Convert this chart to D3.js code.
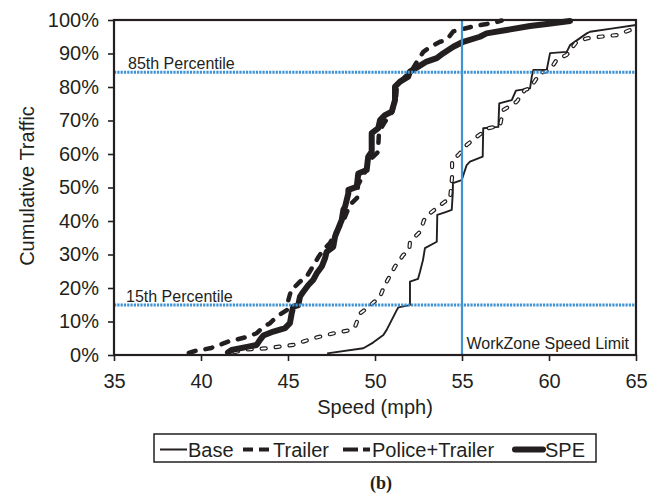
<!DOCTYPE html>
<html><head><meta charset="utf-8">
<script src="https://cdn.jsdelivr.net/npm/d3@7"></script>
<style>
body{margin:0;background:#fff;}
svg{display:block;font-family:"Liberation Sans",Arial,Helvetica,sans-serif;}
</style>
</head><body>
<svg id="chart" width="660" height="498"></svg>
<script>
// ---- data ----
const xTicks = [35, 40, 45, 50, 55, 60, 65];
const yTicks = [0, 10, 20, 30, 40, 50, 60, 70, 80, 90, 100];
const speedLimit = 55;
const pct15 = 14.9;
const pct85 = 84.4;
const seriesNames = ["Base", "Trailer", "Police+Trailer", "SPE"];

const baseSeries = [[47.25,0.5],[49.33,2.0],[49.89,3.7],[50.48,6.0],[50.67,7.5],[51.25,13.4],[51.34,14.2],[52.01,14.9],[52.01,21.9],[52.47,22.7],[52.59,24.9],[52.76,28.4],[52.87,31.9],[53.55,33.8],[53.58,41.8],[54.02,42.6],[54.41,43.3],[54.47,48.3],[54.48,51.3],[54.98,52.2],[55.27,56.7],[55.46,57.7],[56.19,59.2],[56.22,67.7],[57.09,68.1],[57.14,75.1],[57.86,76.1],[58.10,78.9],[58.91,79.6],[59.01,83.1],[59.10,85.1],[59.87,85.1],[60.06,90.1],[61.02,90.5],[61.21,92.5],[62.17,96.0],[62.36,96.5],[63.68,97.5],[65.0,98.5]];

const trailerSeries = [[39.3,0.65],[39.66,1.2],[40.52,2.0],[40.80,2.5],[41.57,4.0],[41.95,4.5],[42.72,5.5],[43.20,6.5],[43.58,8.4],[43.97,9.5],[44.35,11.4],[44.93,13.4],[45.02,16.4],[45.21,19.9],[45.40,20.4],[45.69,21.9],[46.07,23.4],[46.38,26.0],[46.72,29.0],[47.01,31.3],[47.41,33.4],[47.76,36.7],[48.16,39.7],[48.39,42.7],[48.56,44.8],[48.97,46.9],[49.02,50.7],[49.43,54.6],[49.71,58.2],[50.17,60.6],[50.23,66.6],[50.57,69.6],[50.98,72.5],[51.21,76.7],[51.26,80.3],[51.67,82.7],[52.13,85.1],[52.47,88.1],[52.78,90.5],[53.16,91.9],[53.74,93.5],[54.12,94.1],[54.50,96.6],[54.89,97.1],[55.65,98.1],[56.42,98.8],[57.0,99.4],[57.28,99.85]];

const policeTrailerSeries = [[41.9,0.8],[42.5,1.6],[43.78,2.0],[45.30,3.0],[46.45,5.0],[47.80,6.7],[48.66,7.5],[48.85,8.4],[49.14,12.4],[49.52,13.9],[50.29,17.4],[50.52,20.4],[51.15,26.4],[51.63,29.9],[51.97,31.3],[52.01,33.8],[52.59,36.8],[52.82,40.3],[53.16,42.3],[54.02,45.8],[54.31,46.3],[54.43,53.2],[54.43,58.2],[54.79,59.7],[55.27,62.7],[55.84,65.1],[56.51,67.7],[57.18,68.4],[57.37,73.1],[58.14,75.6],[58.62,79.1],[58.91,79.6],[59.48,84.1],[60.06,85.1],[60.44,88.1],[61.02,89.6],[61.59,93.5],[62.17,94.5],[62.93,95.0],[63.89,95.5],[64.66,97.0],[65.0,98.5]];

const speSeries = [[41.55,0.75],[41.76,1.5],[42.72,2.5],[43.20,3.0],[43.39,4.5],[43.58,5.8],[44.16,7.0],[44.83,8.0],[45.11,9.5],[45.21,12.4],[45.30,14.4],[45.59,14.9],[45.69,17.4],[45.88,18.9],[46.17,20.9],[46.45,22.4],[46.65,24.4],[46.94,26.4],[47.13,28.9],[47.22,30.8],[47.60,32.3],[47.70,35.3],[48.09,40.3],[48.18,43.3],[48.28,44.3],[48.47,48.3],[48.47,49.3],[48.95,50.2],[49.04,54.2],[49.52,55.2],[49.61,59.2],[49.81,60.7],[49.81,66.2],[50.19,67.7],[50.29,70.1],[50.57,71.6],[50.96,72.6],[51.15,76.1],[51.15,80.1],[51.44,81.6],[51.91,83.1],[52.01,84.6],[52.49,86.1],[52.97,87.6],[53.55,88.6],[53.93,90.1],[54.50,92.0],[55.07,93.5],[56.03,95.0],[56.41,96.0],[57.56,97.0],[58.91,98.2],[59.87,98.8],[61.21,99.7]];

// ---- layout ----
const ink = "#231f20", blue = "#3f92d4";
const svg = d3.select("#chart");
const x = d3.scaleLinear().domain([35, 65]).range([114, 636]);
const y = d3.scaleLinear().domain([0, 100]).range([355, 20]);
const line = d3.line().x(d => x(d[0])).y(d => y(d[1]));

// axes
const gx = svg.append("g").attr("transform", `translate(0,${y(0)})`)
  .call(d3.axisBottom(x).tickValues(xTicks).tickSize(6).tickPadding(13).tickFormat(d3.format("d")));
const gy = svg.append("g").attr("transform", `translate(${x(35)},0)`)
  .call(d3.axisLeft(y).tickValues(yTicks).tickSize(6).tickPadding(9).tickFormat(d => d + "%"));
[gx, gy].forEach(g => {
  g.select(".domain").remove();
  g.selectAll("line").attr("stroke", ink).attr("stroke-width", 1.6);
  g.selectAll("text").attr("fill", ink).style("font-size", "20px").style("font-family", '"Liberation Sans",Arial,sans-serif');
});

// curves
const gc = svg.append("g").attr("fill", "none").attr("stroke-linejoin", "round");
gc.append("path").datum(baseSeries).attr("d", line).attr("stroke", ink).attr("stroke-width", 1.9);
gc.append("path").datum(policeTrailerSeries).attr("d", line).attr("stroke", ink).attr("stroke-width", 4.2)
  .attr("stroke-linecap", "round").attr("stroke-dasharray", "4,10");
gc.append("path").datum(policeTrailerSeries).attr("d", line).attr("stroke", "#fff").attr("stroke-width", 1.8)
  .attr("stroke-linecap", "round").attr("stroke-dasharray", "4,10");
gc.append("path").datum(speSeries).attr("d", line).attr("stroke", ink).attr("stroke-width", 6).attr("stroke-linecap", "round");
gc.append("path").datum(trailerSeries).attr("d", line).attr("stroke", ink).attr("stroke-width", 4.5)
  .attr("stroke-linecap", "round").attr("stroke-dasharray", "7,10");

// reference lines
svg.append("line").attr("x1", x(35)).attr("x2", x(65)).attr("y1", y(pct85)).attr("y2", y(pct85))
  .attr("stroke", blue).attr("stroke-width", 3).attr("stroke-dasharray", "2.2,1.1");
svg.append("line").attr("x1", x(35)).attr("x2", x(65)).attr("y1", y(pct15)).attr("y2", y(pct15))
  .attr("stroke", blue).attr("stroke-width", 3).attr("stroke-dasharray", "2.2,1.1");
svg.append("line").attr("x1", x(speedLimit)).attr("x2", x(speedLimit)).attr("y1", y(100)).attr("y2", y(0))
  .attr("stroke", blue).attr("stroke-width", 2.2);

// frame
svg.append("rect").attr("x", x(35)).attr("y", y(100)).attr("width", x(65) - x(35)).attr("height", y(0) - y(100))
  .attr("fill", "none").attr("stroke", ink).attr("stroke-width", 2.2);

// annotations
const ann = svg.append("g").attr("fill", ink).style("font-size", "16px");
ann.append("text").attr("x", 128).attr("y", y(pct85) - 3).text("85th Percentile");
ann.append("text").attr("x", 126).attr("y", y(pct15) - 3.5).text("15th Percentile");
ann.append("text").attr("x", 629).attr("y", 348.5).attr("text-anchor", "end").text("WorkZone Speed Limit");

// axis titles
svg.append("text").attr("x", 375).attr("y", 414).attr("text-anchor", "middle").attr("fill", ink)
  .style("font-size", "20px").text("Speed (mph)");
svg.append("text").attr("transform", "translate(34,186) rotate(-90)").attr("text-anchor", "middle").attr("fill", ink)
  .style("font-size", "20px").text("Cumulative Traffic");

// legend
const lg = svg.append("g");
lg.append("rect").attr("x", 154).attr("y", 434).attr("width", 442).attr("height", 28)
  .attr("fill", "none").attr("stroke", ink).attr("stroke-width", 1.5);
const ly = 449.5;
lg.append("line").attr("x1", 160).attr("x2", 187).attr("y1", ly).attr("y2", ly).attr("stroke", ink).attr("stroke-width", 2);
lg.append("line").attr("x1", 243).attr("x2", 269).attr("y1", ly).attr("y2", ly).attr("stroke", ink).attr("stroke-width", 4)
  .attr("stroke-dasharray", "10,6");
lg.append("line").attr("x1", 343).attr("x2", 370).attr("y1", ly).attr("y2", ly).attr("stroke", ink).attr("stroke-width", 4)
  .attr("stroke-dasharray", "15,5,7,10");
lg.append("line").attr("x1", 515).attr("x2", 543).attr("y1", ly).attr("y2", ly).attr("stroke", ink).attr("stroke-width", 6)
  .attr("stroke-linecap", "round");
const lx = [188, 273, 372, 545];
lg.selectAll("text.lab").data(seriesNames).enter().append("text").attr("class", "lab")
  .attr("x", (d, i) => lx[i]).attr("y", 456.5).attr("fill", ink).style("font-size", "20px").text(d => d);

// panel label
svg.append("text").attr("x", 381).attr("y", 489).attr("text-anchor", "middle").attr("fill", ink)
  .style("font-family", '"Liberation Serif","Times New Roman",serif').style("font-weight", "bold").style("font-size", "18px").text("(b)");
</script>
</body></html>
